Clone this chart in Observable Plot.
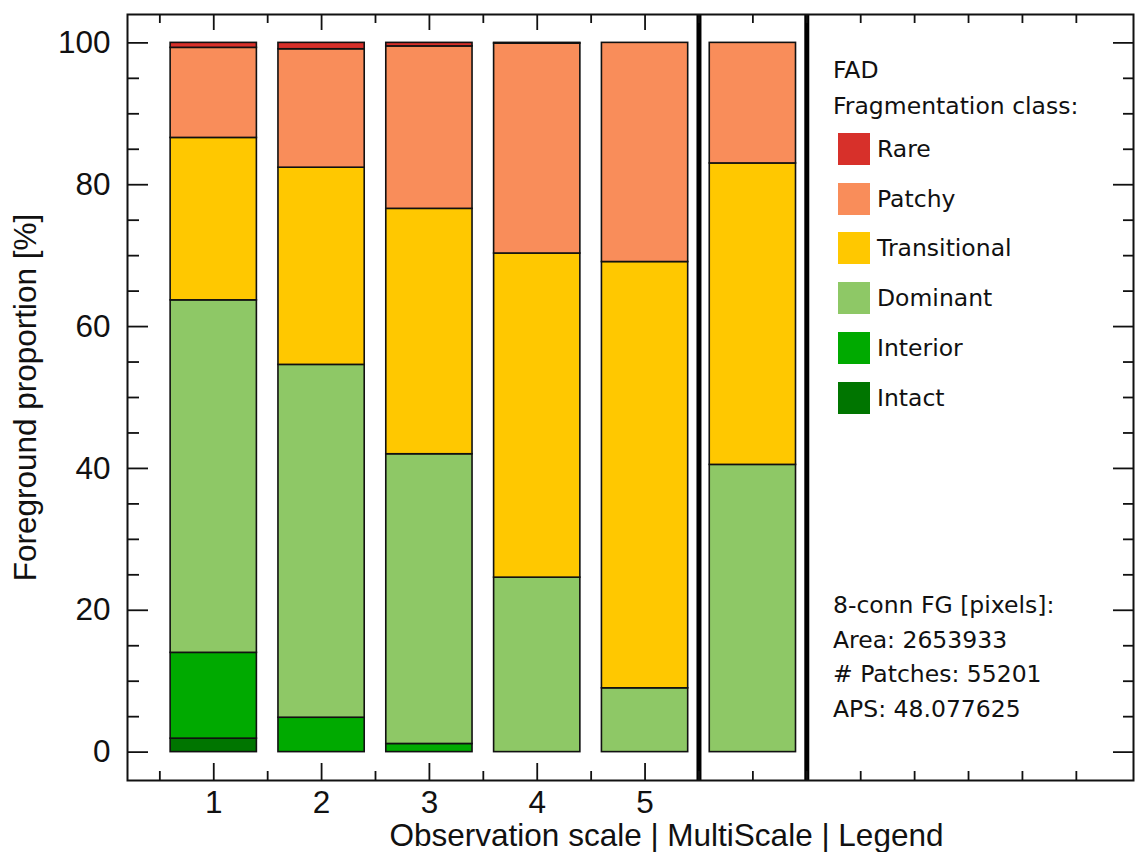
<!DOCTYPE html>
<html>
<head>
<meta charset="utf-8">
<script src="https://cdn.jsdelivr.net/npm/d3@7"></script>
<script src="https://cdn.jsdelivr.net/npm/@observablehq/plot@0.6"></script>
<style>
  html, body { margin: 0; padding: 0; background: white; }
  #wrap { position: relative; width: 1135px; height: 852px; }
  #legend { position: absolute; left: 0; top: 0; width: 1135px; height: 852px; pointer-events: none;
            font-family: "DejaVu Sans", sans-serif; font-size: 23.5px; color: #111; }
  #legend .line { position: absolute; left: 833px; line-height: 24px; white-space: nowrap; }
  #legend .row { position: absolute; left: 838px; height: 32px; display: flex; align-items: center; white-space: nowrap; }
  #legend .sw { width: 32px; height: 32px; margin-right: 7px; }
</style>
</head>
<body>
<div id="wrap"><div id="legend"></div></div>
<script>
// ---- data ----
const categories = ["1", "2", "3", "4", "5", "MultiScale"];
const positions = [1, 2, 3, 4, 5, 6];
const classes = ["Rare", "Patchy", "Transitional", "Dominant", "Interior", "Intact"];
const classColors = ["#d7302a", "#f98d5a", "#ffc800", "#8ec866", "#00aa00", "#007500"];
// values per class (percent of foreground), one per bar
const intact       = [1.9, 0,    0,     0,    0,    0];
const interior     = [12.1, 4.85, 1.15, 0,    0,    0];
const dominant     = [49.7, 49.75, 40.85, 24.6, 9.0, 40.5];
const transitional = [22.9, 27.8, 34.6, 45.7, 60.1, 42.5];
const patchy       = [12.7, 16.7, 22.9, 29.6, 30.9, 17.0];
const rare         = [0.7,  0.9,  0.5,  0.1,  0,    0];
const separators = [5.5, 6.5];
const xMajorTicks = [1, 2, 3, 4, 5];
const xMinorTicks = [0.5, 1.5, 2.5, 3.5, 4.5, 5.5, 6, 6.5, 7, 7.5, 8, 8.5, 9];
const yMajorTicks = [0, 20, 40, 60, 80, 100];
const yMinorTicks = [5, 10, 15, 25, 30, 35, 45, 50, 55, 65, 70, 75, 85, 90, 95];
const headerLines = ["FAD", "Fragmentation class:"];
const statsLines = ["8-conn FG [pixels]:", "Area: 2653933", "# Patches: 55201", "APS: 48.077625"];
const xLabel = "Observation scale | MultiScale | Legend";
const yLabel = "Foreground proportion [%]";

// ---- build stacked rows (bottom to top) ----
const stackOrder = ["Intact", "Interior", "Dominant", "Transitional", "Patchy", "Rare"];
const seriesByClass = {Intact: intact, Interior: interior, Dominant: dominant,
  Transitional: transitional, Patchy: patchy, Rare: rare};
const rows = [];
positions.forEach((pos, i) => {
  let acc = 0;
  for (const cls of stackOrder) {
    const v = seriesByClass[cls][i];
    if (v > 0) rows.push({pos, cat: categories[i], cls, y1: acc, y2: acc + v});
    acc += v;
  }
});

const W = 1135, H = 852, mL = 127, mR = 2, mT = 14, mB = 72;
const plotW = W - mL - mR, plotH = H - mT - mB;
const half = 0.4;
const FS = 31.5;

const chart = Plot.plot({
  width: W, height: H,
  marginLeft: mL, marginRight: mR, marginTop: mT, marginBottom: mB,
  style: {fontFamily: "Liberation Sans, Arial, sans-serif", fontSize: FS + "px", color: "#111", background: "white"},
  x: {type: "linear", domain: [0.2, 9.53]},
  y: {domain: [-4, 104]},
  color: {domain: classes, range: classColors},
  marks: [
    Plot.rect(rows, {x1: d => d.pos - half, x2: d => d.pos + half, y1: "y1", y2: "y2",
      fill: "cls", stroke: "#111", strokeWidth: 1.6}),
    Plot.ruleX(separators, {stroke: "black", strokeWidth: 5}),
    // inward ticks: left / right
    Plot.tickY(yMajorTicks, {y: d => d, insetRight: plotW - 21, stroke: "#111", strokeWidth: 1.8}),
    Plot.tickY(yMinorTicks, {y: d => d, insetRight: plotW - 12, stroke: "#111", strokeWidth: 1.8}),
    Plot.tickY(yMajorTicks, {y: d => d, insetLeft: plotW - 20, stroke: "#111", strokeWidth: 1.8}),
    Plot.tickY(yMinorTicks, {y: d => d, insetLeft: plotW - 10, stroke: "#111", strokeWidth: 1.8}),
    // inward ticks: bottom / top
    Plot.tickX(xMajorTicks, {x: d => d, insetTop: plotH - 17, stroke: "#111", strokeWidth: 1.8}),
    Plot.tickX(xMinorTicks, {x: d => d, insetTop: plotH - 9, stroke: "#111", strokeWidth: 1.8}),
    Plot.tickX(xMajorTicks, {x: d => d, insetBottom: plotH - 16, stroke: "#111", strokeWidth: 1.8}),
    Plot.tickX(xMinorTicks, {x: d => d, insetBottom: plotH - 9, stroke: "#111", strokeWidth: 1.8}),
    Plot.axisY(yMajorTicks, {tickSize: 0, tickPadding: 17, label: null, fontSize: FS}),
    Plot.axisX(xMajorTicks, {tickSize: 0, tickPadding: 10, label: null, fontSize: FS}),
    Plot.text([xLabel], {frameAnchor: "bottom", dx: 36, dy: 65, lineAnchor: "bottom", fontSize: FS, fill: "#111"}),
    Plot.text([yLabel], {frameAnchor: "left", dx: -114, rotate: -90, lineAnchor: "top", textAnchor: "middle", fontSize: FS, fill: "#111"}),
    Plot.frame({stroke: "#111", strokeWidth: 2})
  ]
});
document.getElementById("wrap").prepend(chart);

// ---- legend overlay (inside the plot frame) ----
const leg = document.getElementById("legend");
const headerTops = [58, 94];
headerLines.forEach((t, i) => {
  const el = document.createElement("div");
  el.className = "line"; el.textContent = t; el.style.top = headerTops[i] + "px";
  leg.appendChild(el);
});
classes.forEach((c, i) => {
  const row = document.createElement("div");
  row.className = "row";
  row.style.top = (133 + i * 49.7) + "px";
  const sw = document.createElement("div");
  sw.className = "sw"; sw.style.background = classColors[i];
  const tx = document.createElement("span"); tx.textContent = c;
  row.appendChild(sw); row.appendChild(tx);
  leg.appendChild(row);
});
statsLines.forEach((t, i) => {
  const el = document.createElement("div");
  el.className = "line"; el.textContent = t; el.style.top = (593 + i * 34.7) + "px";
  leg.appendChild(el);
});
</script>
</body>
</html>
